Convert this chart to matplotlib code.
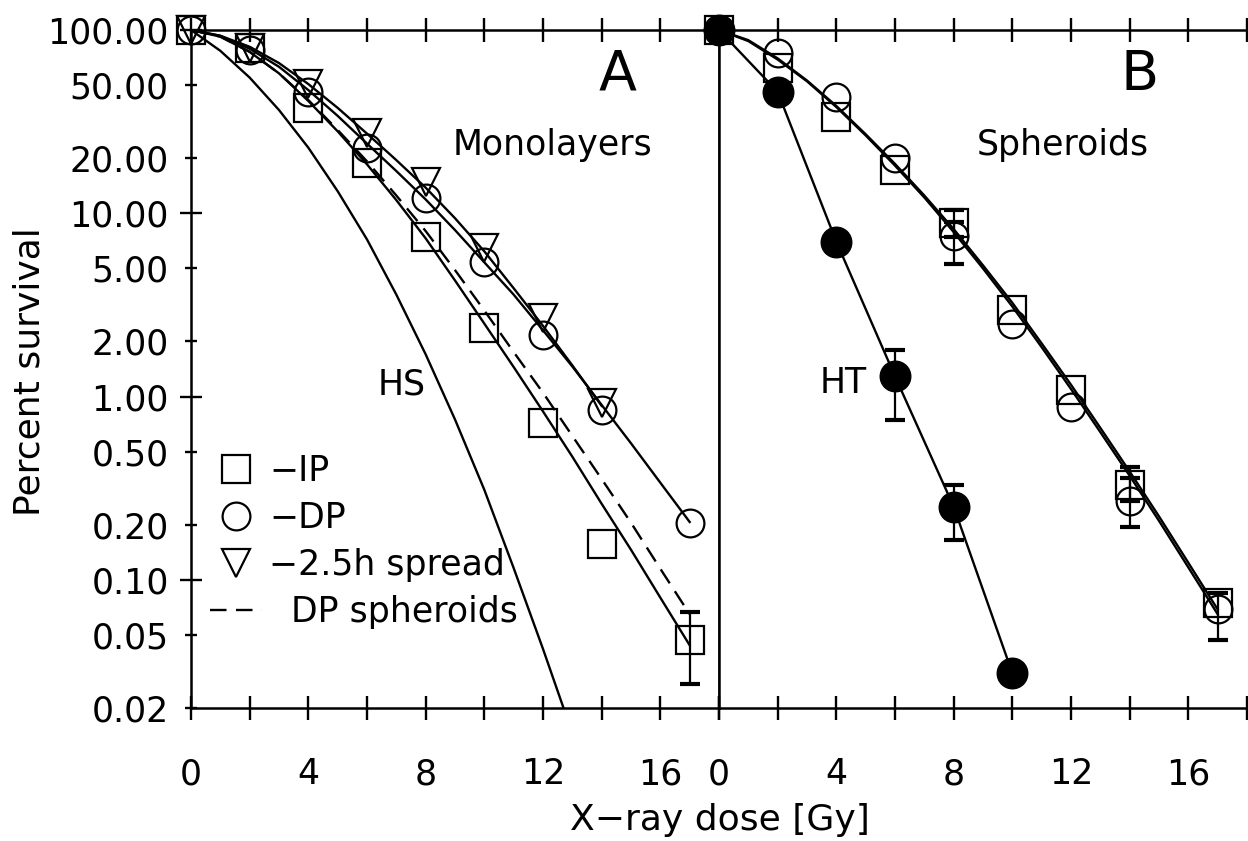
import matplotlib
matplotlib.use("Agg")
import matplotlib.pyplot as plt
from matplotlib.ticker import FixedLocator, FixedFormatter
from matplotlib.lines import Line2D

plt.rcParams['font.family'] = ['DejaVu Sans']

# ---- data (percent survival) ----
dose_pts = [0, 2, 4, 6, 8, 10, 12, 14, 17]
fit_dose = [0, 1, 2, 3, 4, 5, 6, 7, 8, 9, 10, 11, 12, 13, 14, 15, 16, 17]

# panel A, monolayers
ip_a = [100, 80, 37.5, 18.8, 7.4, 2.37, 0.72, 0.157, 0.047]
dp_a = [100, 78, 46, 22.7, 12.1, 5.4, 2.17, 0.85, 0.204]
spread_dose = [0, 2, 4, 6, 8, 10, 12, 14]
spread_a = [100, 80, 51, 27.4, 14.8, 6.5, 2.7, 0.92]

ip_fit_a = [100, 92, 76, 58, 41, 28, 18.5, 11.8, 7.3, 4.3, 2.5, 1.45, 0.83,
            0.47, 0.26, 0.146, 0.080, 0.044]
dp_fit_a = [100, 93, 79, 63, 47, 34, 24, 17, 11.9, 8.1, 5.4, 3.6, 2.3,
            1.46, 0.90, 0.556, 0.339, 0.207]
sph_dashed_a = [100, 92, 76, 58, 41.5, 28.5, 19.2, 12.5, 8.0, 4.9, 2.95, 1.75,
                1.05, 0.61, 0.355, 0.205, 0.115, 0.065]
spread_fit_dose = [0, 1, 2, 3, 4, 5, 6, 7, 8, 9, 10, 11, 12, 13, 14]
spread_fit_a = [100, 93, 81, 66, 50.7, 37.6, 27.2, 19.5, 13.8, 9.4, 6.2, 3.9,
                2.43, 1.48, 0.89]
hs_dose = [0, 1, 2, 3, 4, 5, 6, 7, 8, 9, 10, 11, 12, 12.7]
hs_fit = [100, 77, 55, 36.6, 22.8, 13.2, 7.2, 3.6, 1.7, 0.75, 0.31, 0.116,
          0.042, 0.02]

# panel B, spheroids
ip_b = [100, 62, 33.5, 17.2, 8.9, 2.95, 1.09, 0.33, 0.075]
dp_b = [100, 75, 43, 20, 7.5, 2.5, 0.88, 0.27, 0.069]
ht_dose = [0, 2, 4, 6, 8, 10]
ht_b = [100, 46, 7.0, 1.29, 0.251, 0.031]

ip_fit_b = [100, 88, 70, 53, 38.5, 27, 18.6, 12.5, 8.2, 5.2, 3.25, 1.95,
            1.16, 0.675, 0.39, 0.222, 0.124, 0.069]
dp_fit_b = [100, 87, 69, 52.5, 38, 26.6, 18.2, 12.2, 7.9, 5.0, 3.1, 1.86,
            1.10, 0.64, 0.37, 0.21, 0.117, 0.065]

# error bars: dose, low end, high end
err_ip_a = ([17], [0.027], [0.067])
err_ht_b = ([6, 8], [0.745, 0.165], [1.8, 0.33])
err_ip_b = ([8, 14], [7.4, 0.27], [10.4, 0.415])
err_dp_b = ([8, 14, 17], [5.3, 0.195, 0.047], [9.0, 0.36, 0.085])

x_ticks = [0, 2, 4, 6, 8, 10, 12, 14, 16, 18]
x_tick_labels = ['0', '', '4', '', '8', '', '12', '', '16', '']
y_major = [0.1, 1, 10, 100]
y_major_labels = ['0.10', '1.00', '10.00', '100.00']
y_minor = [0.02, 0.05, 0.2, 0.5, 2, 5, 20, 50]
y_minor_labels = ['0.02', '0.05', '0.20', '0.50', '2.00', '5.00', '20.00', '50.00']

legend_labels = ['\u2212IP', '\u2212DP', '\u22122.5h spread', '  DP spheroids']

# ---- figure ----
fig = plt.figure(figsize=(12.48, 8.41), dpi=100)
left, bottom, w, h = 191 / 1248, 133 / 841, 528 / 1248, 678 / 841
axA = fig.add_axes([left, bottom, w, h])
axB = fig.add_axes([left + w, bottom, w, h])

LW = 1.7
FS = 25
mk = dict(ls='none', mfc='none', mec='k', mew=1.6, clip_on=False, zorder=3)

for ax in (axA, axB):
    ax.set_yscale('log')
    ax.set_xlim(0, 18)
    ax.set_ylim(0.02, 100)
    ax.xaxis.set_major_locator(FixedLocator(x_ticks))
    ax.xaxis.set_major_formatter(FixedFormatter(x_tick_labels))
    ax.tick_params(axis='x', which='major', direction='inout', length=17,
                   width=1.7, top=True, pad=27, labelsize=FS)
    for s in ax.spines.values():
        s.set_linewidth(1.8)

axA.yaxis.set_major_locator(FixedLocator(y_major))
axA.yaxis.set_major_formatter(FixedFormatter(y_major_labels))
axA.yaxis.set_minor_locator(FixedLocator(y_minor))
axA.yaxis.set_minor_formatter(FixedFormatter(y_minor_labels))
axA.tick_params(axis='y', which='major', direction='inout', length=16,
                width=1.7, pad=8, labelsize=FS)
axA.tick_params(axis='y', which='minor', direction='inout', length=8,
                width=1.7, pad=12, labelsize=FS)
axB.tick_params(axis='y', which='both', left=False, labelleft=False)
axB.spines['right'].set_visible(False)

# panel A
axA.plot(hs_dose, hs_fit, color='k', lw=LW)
axA.plot(fit_dose, ip_fit_a, color='k', lw=LW)
axA.plot(fit_dose, sph_dashed_a, color='k', lw=LW, ls=(0, (7, 4)))
axA.plot(fit_dose, dp_fit_a, color='k', lw=LW)
axA.plot(spread_fit_dose, spread_fit_a, color='k', lw=LW)
axA.plot(dose_pts, ip_a, marker='s', ms=20, **mk)
axA.plot(dose_pts, dp_a, marker='o', ms=20, **mk)
axA.plot(spread_dose, spread_a, marker='v', ms=20, **mk)


def bars(ax, err):
    d, lo, hi = err
    up = [b - a for a, b in zip(lo, hi)]
    ax.errorbar(d, lo, yerr=[[0] * len(d), up], fmt='none', ecolor='k',
                elinewidth=1.6, capsize=7, capthick=3, zorder=2)


bars(axA, err_ip_a)

axA.text(14.55, 57, 'A', fontsize=40, ha='center', va='center')
axA.text(12.33, 23.6, 'Monolayers', fontsize=FS, ha='center', va='center')
axA.text(7.19, 1.16, 'HS', fontsize=FS, ha='center', va='center')

handles = [
    Line2D([], [], marker='s', ms=20, ls='none', mfc='none', mec='k', mew=1.6),
    Line2D([], [], marker='o', ms=20, ls='none', mfc='none', mec='k', mew=1.6),
    Line2D([], [], marker='v', ms=20, ls='none', mfc='none', mec='k', mew=1.6),
    Line2D([], [], color='k', lw=LW, ls=(0, (7, 4))),
]
axA.legend(handles, legend_labels, loc='upper left',
           bbox_to_anchor=(0.036, 0.375), frameon=False, fontsize=FS,
           handlelength=1.5, handletextpad=0.2, labelspacing=0.38,
           borderpad=0, borderaxespad=0)

# panel B
axB.plot(ht_dose, ht_b, color='k', lw=LW)
axB.plot(fit_dose, ip_fit_b, color='k', lw=LW)
axB.plot(fit_dose, dp_fit_b, color='k', lw=LW)
axB.plot(ht_dose, ht_b, ls='none', marker='o', ms=22, mfc='k', mec='k',
         clip_on=False, zorder=3)
axB.plot(dose_pts, ip_b, marker='s', ms=20, **mk)
axB.plot(dose_pts, dp_b, marker='o', ms=20, **mk)
bars(axB, err_ht_b)
bars(axB, err_ip_b)
bars(axB, err_dp_b)

axB.text(14.34, 57, 'B', fontsize=40, ha='center', va='center')
axB.text(11.72, 23.6, 'Spheroids', fontsize=FS, ha='center', va='center')
axB.text(4.22, 1.19, 'HT', fontsize=FS, ha='center', va='center')

fig.text(720 / 1248, 1 - 820 / 841, 'X\u2212ray dose [Gy]', fontsize=26,
         ha='center', va='center')
fig.text(30 / 1248, 1 - 372 / 841, 'Percent survival', fontsize=26,
         rotation=90, ha='center', va='center')

fig.savefig('out.png', dpi=100)
